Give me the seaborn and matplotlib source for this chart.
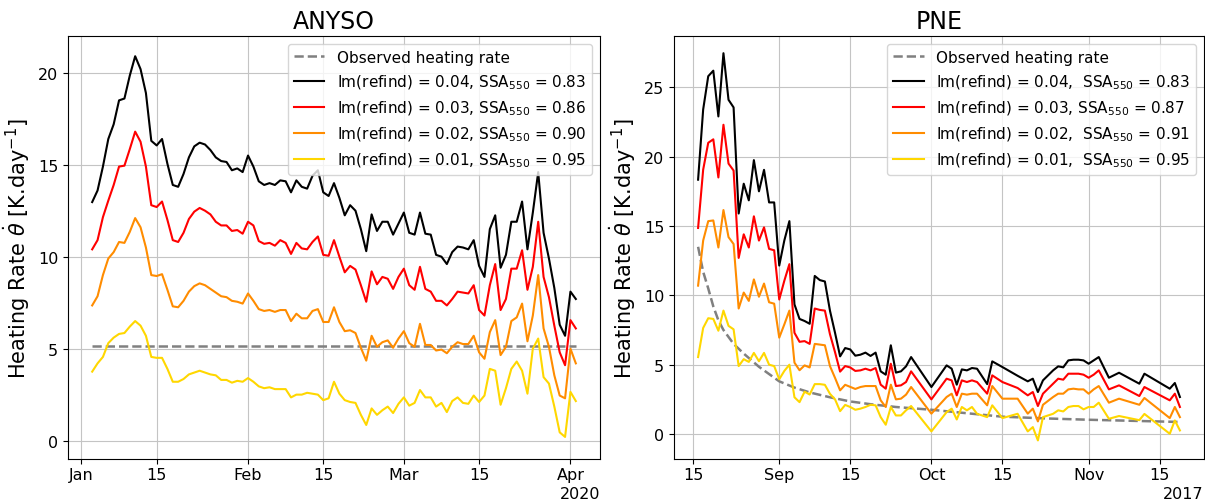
import pandas as pd
import seaborn as sns
import matplotlib.pyplot as plt
import matplotlib.dates as mdates

# ANYSO campaign, one value per day from 3 Jan to 2 Apr 2020
anyso_dates = pd.date_range("2020-01-03", "2020-04-02", freq="D")
anyso_observed = 5.15
anyso_im004 = [12.97, 13.6, 14.9, 16.4, 17.2, 18.5, 18.6, 19.85, 20.9, 20.2,
               18.9, 16.3, 16.05, 16.4, 15.05, 13.9, 13.8, 14.5, 15.4, 16.0,
               16.2, 16.1, 15.8, 15.4, 15.2, 15.15, 14.7, 14.8, 14.6, 15.5,
               14.9, 14.1, 13.9, 14.0, 13.9, 14.15, 14.1, 13.5, 14.15, 13.8,
               13.7, 14.4, 14.7, 13.5, 13.3,
               14.0, 13.2, 12.25, 12.8, 12.5, 11.5, 10.3, 12.3, 11.4, 11.9,
               11.9, 11.2, 11.8, 12.4, 11.3, 11.2, 12.4, 11.25, 11.2, 10.1,
               10.0, 9.6, 10.25, 10.55, 10.5, 10.4, 10.9, 9.5, 8.9, 11.5,
               12.25, 9.4, 10.1, 11.9, 11.9, 13.0, 10.4, 12.4, 14.6, 11.3,
               9.9, 8.3, 6.3, 5.7, 8.1, 7.7]
anyso_im003 = [10.4, 10.9, 12.15, 13.05, 13.9, 14.9, 14.95, 15.85, 16.8, 16.25,
               14.9, 12.8, 12.7, 13.0, 12.0, 10.9, 10.8, 11.3, 12.05, 12.45,
               12.65, 12.5, 12.3, 11.9, 11.7, 11.7, 11.4, 11.45, 11.25, 11.9,
               11.7, 10.85, 10.7, 10.75, 10.6, 10.9, 10.75, 10.15, 10.75, 10.45,
               10.4, 10.8, 11.1, 10.1, 10.05,
               10.9, 10.0, 9.15, 9.5, 9.3, 8.45, 7.55, 9.2, 8.5, 8.9,
               8.8, 8.25, 8.9, 9.35, 8.45, 8.2, 9.45, 8.25, 8.1, 7.6,
               7.6, 7.35, 7.7, 8.1, 8.05, 8.0, 8.45, 7.1, 6.8, 8.45,
               9.6, 7.1, 7.7, 9.35, 9.35, 10.35, 8.2, 9.45, 11.9, 8.9,
               7.8, 6.25, 4.8, 4.1, 6.55, 6.1]
anyso_im002 = [7.35, 7.85, 9.0, 9.9, 10.25, 10.8, 10.75, 11.35, 12.1, 11.6,
               10.5, 9.0, 8.95, 9.05, 8.2, 7.3, 7.25, 7.6, 8.1, 8.4,
               8.55, 8.45, 8.25, 8.05, 7.85, 7.8, 7.6, 7.55, 7.45, 8.0,
               7.6, 7.15, 7.05, 7.1, 7.0, 7.1, 7.1, 6.5, 6.9, 6.65,
               6.65, 7.05, 7.15, 6.45, 6.45,
               7.25, 6.45, 5.95, 6.0, 5.85, 5.05, 4.35, 5.7, 5.1, 5.35,
               5.45, 5.05, 5.55, 5.95, 5.3, 5.1, 6.35, 5.2, 5.2, 4.9,
               4.95, 4.75, 5.1, 5.35, 5.25, 5.25, 5.7, 4.8, 4.45, 5.9,
               6.55, 4.65, 5.1, 6.5, 6.7, 7.45, 5.4, 6.8, 9.0, 6.1,
               5.1, 3.55, 2.45, 2.3, 5.0, 4.2]
anyso_im001 = [3.75, 4.2, 4.55, 5.3, 5.6, 5.8, 5.85, 6.2, 6.5, 6.25,
               5.7, 4.55, 4.5, 4.5, 3.9, 3.2, 3.2, 3.35, 3.6, 3.7,
               3.8, 3.7, 3.6, 3.55, 3.3, 3.3, 3.15, 3.25, 3.2, 3.4,
               3.2, 2.95, 2.85, 2.9, 2.8, 2.8, 2.8, 2.35, 2.5, 2.5,
               2.6, 2.55, 2.5, 2.2, 2.3,
               3.2, 2.55, 2.2, 2.1, 2.05, 1.4, 0.85, 1.75, 1.4, 1.65,
               1.85, 1.5, 2.0, 2.35, 1.9, 2.05, 2.75, 2.35, 2.35, 1.85,
               2.05, 1.55, 2.15, 2.35, 2.05, 2.0, 2.45, 2.1, 2.45, 3.9,
               3.8, 1.95, 2.85, 3.9, 4.3, 3.8, 2.55, 5.0, 5.55, 3.45,
               3.1, 1.85, 0.45, 0.2, 2.65, 2.15]
anyso_labels = ["Im(refind) = 0.04, SSA$_{550}$ = 0.83",
                "Im(refind) = 0.03, SSA$_{550}$ = 0.86",
                "Im(refind) = 0.02, SSA$_{550}$ = 0.90",
                "Im(refind) = 0.01, SSA$_{550}$ = 0.95"]

# PNE campaign, days counted from 15 Aug 2017 (some days missing)
pne_start = pd.Timestamp("2017-08-15")
pne_days = list(range(1, 33)) + [33, 34, 35, 36, 37, 38, 39, 40, 41, 42, 43, 47,
                                  50, 51, 52, 53, 54, 55, 56, 58, 59, 61, 64,
                                  66, 67, 68, 69, 71, 72, 73, 74, 75, 76, 77,
                                  78, 79, 80, 82, 84, 88, 89, 94, 95, 96]
pne_im004 = [18.34, 23.4, 25.8, 26.2, 22.9, 27.46, 24.1, 23.55, 15.9, 18.05,
             16.85, 19.75, 17.5, 19.05, 16.7, 16.7, 12.15, 13.95, 15.35, 9.35,
             8.3, 8.15, 7.95, 11.4, 11.1, 11.0, 8.9, 7.3, 5.6, 6.2, 6.1, 5.65,
             5.72, 5.87, 5.63, 5.87, 4.52, 4.28, 6.4, 4.43, 4.52, 4.88, 5.55, 3.39,
             4.95, 4.71, 3.56, 4.66, 4.59, 4.76, 4.71, 3.6, 5.24, 4.83, 4.2,
             3.8, 3.99, 3.03, 3.87, 4.59, 4.88, 4.81, 5.31, 5.36, 5.36, 5.31,
             5.07, 5.31, 5.55, 4.06, 4.42, 3.63, 4.35, 3.27, 3.68, 2.67]
pne_im003 = [14.86, 19.06, 21.0, 21.25, 18.5, 22.3, 19.5, 19.0, 12.7, 14.4,
             13.45, 15.7, 13.95, 14.9, 13.35, 13.25, 9.7, 11.05, 12.25, 7.3,
             6.65, 6.7, 6.5, 9.05, 8.95, 8.9, 7.2, 5.9, 4.5, 4.9, 4.8, 4.55,
             4.59, 4.71, 4.59, 4.76, 3.56, 3.27, 5.07, 3.46, 3.51, 3.75, 4.52, 2.5,
             3.99, 3.87, 2.79, 3.87, 3.75, 3.87, 3.75, 2.91, 4.23, 3.75, 3.32,
             2.79, 3.03, 2.02, 2.91, 3.63, 3.99, 3.92, 4.35, 4.35, 4.35, 4.28,
             4.06, 4.28, 4.59, 3.22, 3.51, 2.74, 3.39, 2.43, 2.91, 1.95]
pne_im002 = [10.7, 13.95, 15.35, 15.4, 13.45, 16.15, 14.2, 13.7, 9.05, 10.2,
             9.6, 11.15, 9.9, 10.85, 9.5, 9.4, 6.95, 7.9, 8.9, 5.15,
             4.6, 4.95, 4.8, 6.5, 6.45, 6.4, 4.9, 4.05, 3.15, 3.55, 3.4, 3.25,
             3.39, 3.46, 3.46, 3.46, 2.43, 1.95, 3.56, 2.5, 2.55, 2.84, 3.39, 1.47,
             2.67, 2.91, 1.95, 2.91, 2.84, 2.91, 2.91, 2.07, 3.46, 2.55, 2.55,
             1.47, 1.83, 0.91, 2.11, 2.67, 2.91, 2.91, 3.22, 3.27, 3.22, 3.22,
             2.91, 3.22, 3.46, 2.26, 2.55, 2.11, 2.6, 1.15, 1.95, 1.22]
pne_im001 = [5.55, 7.65, 8.35, 8.3, 7.45, 8.9, 7.8, 7.55, 4.9, 5.4,
             5.2, 5.85, 5.25, 5.85, 5.0, 4.9, 3.95, 4.55, 5.0, 2.65,
             2.3, 3.05, 2.85, 3.6, 3.6, 3.55, 2.9, 2.5, 1.65, 2.1, 1.95, 1.75,
             1.83, 1.95, 2.11, 2.07, 1.22, 0.67, 1.95, 1.34, 1.34, 1.71, 2.02, 0.19,
             1.58, 1.83, 1.05, 1.95, 1.71, 1.95, 1.46, 1.22, 2.07, 1.15, 1.46,
             0.19, 0.5, -0.46, 1.22, 1.46, 1.71, 1.63, 1.95, 2.02, 2.02, 1.78,
             1.95, 1.95, 2.26, 1.1, 1.3, 1.0, 1.45, 0.02, 0.98, 0.26]
pne_obs_days = [1, 2, 3, 4, 5, 6, 8, 10, 13, 17, 20, 23, 27, 31, 35, 40, 47,
                54, 61, 70, 78, 87, 96]
pne_observed = [13.5, 11.7, 10.5, 9.2, 8.2, 7.5, 6.5, 5.8, 4.85, 3.8, 3.35, 3.0,
                2.65, 2.35, 2.15, 1.95, 1.75, 1.5, 1.25, 1.12, 1.03, 0.95, 0.87]
pne_labels = ["Im(refind) = 0.04,  SSA$_{550}$ = 0.83",
              "Im(refind) = 0.03, SSA$_{550}$ = 0.87",
              "Im(refind) = 0.02,  SSA$_{550}$ = 0.91",
              "Im(refind) = 0.01,  SSA$_{550}$ = 0.95"]

line_colors = ["black", "red", "darkorange", "gold"]


def heating_panel(ax, dates, series, labels, obs_dates, obs_vals, title, ylim):
    """Draws the observed heating rate and the four simulated ones."""
    sns.lineplot(x=obs_dates, y=obs_vals, ax=ax, color="grey", linestyle="--",
                 linewidth=1.8, label="Observed heating rate")
    for vals, lab, col in zip(series, labels, line_colors):
        sns.lineplot(x=dates, y=vals, ax=ax, color=col, linewidth=1.5, label=lab)
    loc = mdates.DayLocator(bymonthday=[1, 15])
    fmt = mdates.ConciseDateFormatter(
        loc, offset_formats=["", "%Y", "%Y", "%Y-%b-%d", "%Y-%b-%d", "%Y-%b-%d %H:%M"])
    ax.xaxis.set_major_locator(loc)
    ax.xaxis.set_major_formatter(fmt)
    ax.set_ylim(*ylim)
    ax.grid(True, color="#c4c4c4", linewidth=0.8)
    ax.set_title(title, fontsize=17)
    ax.set_ylabel(r"Heating Rate $\dot{\theta}$ [K.day$^{-1}$]", fontsize=15)
    ax.set_xlabel("")
    ax.tick_params(labelsize=11.5)
    ax.tick_params(axis="x", pad=2.5)
    ax.xaxis.get_offset_text().set_fontsize(11.5)
    ax.legend(loc="upper right", fontsize=11)


fig = plt.figure(figsize=(12.05, 5.02), dpi=100)
ax1 = fig.add_axes([68 / 1205, 42 / 502, 532 / 1205, 423 / 502])
ax2 = fig.add_axes([674 / 1205, 42 / 502, 530 / 1205, 423 / 502])

heating_panel(ax1, anyso_dates,
              [anyso_im004, anyso_im003, anyso_im002, anyso_im001],
              anyso_labels, anyso_dates, [anyso_observed] * len(anyso_dates),
              "ANYSO", (-1.0, 22.0))

pne_dates = [pne_start + pd.Timedelta(days=d) for d in pne_days]
pne_obs_dates = [pne_start + pd.Timedelta(days=d) for d in pne_obs_days]
heating_panel(ax2, pne_dates,
              [pne_im004, pne_im003, pne_im002, pne_im001],
              pne_labels, pne_obs_dates, pne_observed,
              "PNE", (-1.8, 28.7))

fig.savefig("out.png", dpi=100)
